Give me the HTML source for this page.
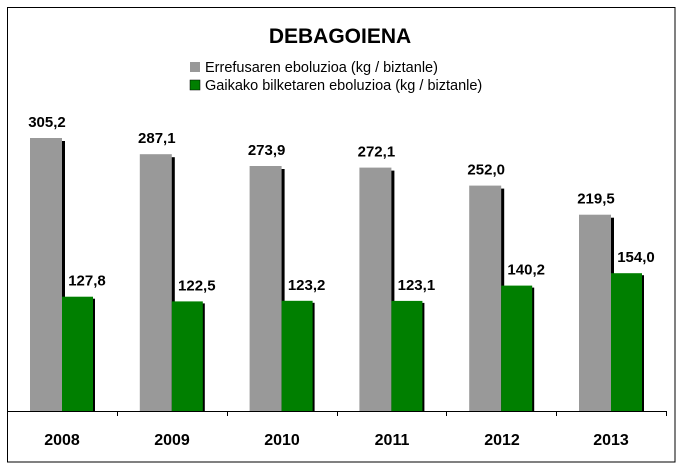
<!DOCTYPE html>
<html><head><meta charset="utf-8"><style>body{margin:0;background:#fff}</style></head><body>
<svg width="682" height="469" xmlns="http://www.w3.org/2000/svg" font-family="Liberation Sans, Arial, sans-serif">
<rect x="0" y="0" width="682" height="469" fill="#fff"/>
<rect x="7.5" y="7.5" width="667.5" height="454.5" fill="none" stroke="#000" stroke-width="1"/>
<text x="340" y="43" font-size="21" font-weight="bold" text-anchor="middle">DEBAGOIENA</text>
<rect x="190" y="62" width="10" height="10" fill="#999"/>
<text x="205" y="72" font-size="14.5">Errefusaren eboluzioa (kg / biztanle)</text>
<rect x="190" y="80" width="10" height="10" fill="#007f00" stroke="#000" stroke-width="0.5"/>
<text x="205" y="90" font-size="14.5">Gaikako bilketaren eboluzioa (kg / biztanle)</text>

<g>
<rect x="33" y="141" width="32" height="270" fill="#000"/><rect x="30" y="138" width="32" height="273" fill="#999"/>
<rect x="64" y="298.7" width="31" height="112.3" fill="#000"/><rect x="62" y="296.7" width="31" height="114.3" fill="#007f00"/>
<rect x="142.8" y="157.2" width="32" height="253.8" fill="#000"/><rect x="139.8" y="154.2" width="32" height="256.8" fill="#999"/>
<rect x="173.8" y="303.4" width="31" height="107.6" fill="#000"/><rect x="171.8" y="301.4" width="31" height="109.6" fill="#007f00"/>
<rect x="252.6" y="169" width="32" height="242" fill="#000"/><rect x="249.6" y="166" width="32" height="245" fill="#999"/>
<rect x="283.6" y="302.8" width="31" height="108.2" fill="#000"/><rect x="281.6" y="300.8" width="31" height="110.2" fill="#007f00"/>
<rect x="362.4" y="170.6" width="32" height="240.4" fill="#000"/><rect x="359.4" y="167.6" width="32" height="243.4" fill="#999"/>
<rect x="393.4" y="302.9" width="31" height="108.1" fill="#000"/><rect x="391.4" y="300.9" width="31" height="110.1" fill="#007f00"/>
<rect x="472.2" y="188.6" width="32" height="222.4" fill="#000"/><rect x="469.2" y="185.6" width="32" height="225.4" fill="#999"/>
<rect x="503.2" y="287.6" width="31" height="123.4" fill="#000"/><rect x="501.2" y="285.6" width="31" height="125.4" fill="#007f00"/>
<rect x="582" y="217.7" width="32" height="193.3" fill="#000"/><rect x="579" y="214.7" width="32" height="196.3" fill="#999"/>
<rect x="613" y="275.2" width="31" height="135.8" fill="#000"/><rect x="611" y="273.2" width="31" height="137.8" fill="#007f00"/>
</g>
<g font-size="15" font-weight="bold" text-anchor="middle">
<text x="47" y="127">305,2</text><text x="87" y="285.7">127,8</text>
<text x="156.8" y="143.2">287,1</text><text x="196.8" y="290.4">122,5</text>
<text x="266.6" y="155">273,9</text><text x="306.6" y="289.8">123,2</text>
<text x="376.4" y="156.6">272,1</text><text x="416.4" y="289.9">123,1</text>
<text x="486.2" y="174.6">252,0</text><text x="526.2" y="274.6">140,2</text>
<text x="596" y="203.7">219,5</text><text x="636" y="262.2">154,0</text>
</g>
<g font-size="16" font-weight="bold" text-anchor="middle">
<text x="62" y="445">2008</text><text x="172" y="445">2009</text><text x="282" y="445">2010</text>
<text x="392" y="445">2011</text><text x="502" y="445">2012</text><text x="611" y="445">2013</text>
</g>
<line x1="7" y1="411.5" x2="666" y2="411.5" stroke="#000"/>
<g stroke="#000">
<line x1="117.5" y1="411" x2="117.5" y2="416"/><line x1="227.5" y1="411" x2="227.5" y2="416"/><line x1="337.5" y1="411" x2="337.5" y2="416"/><line x1="446.5" y1="411" x2="446.5" y2="416"/><line x1="556.5" y1="411" x2="556.5" y2="416"/><line x1="666.5" y1="411" x2="666.5" y2="416"/>
</g>
</svg>
</body></html>
